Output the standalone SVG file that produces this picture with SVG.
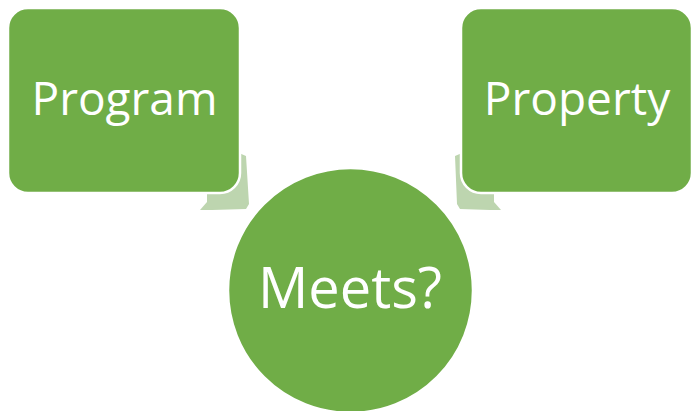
<svg xmlns="http://www.w3.org/2000/svg" width="693" height="411" viewBox="0 0 693 411">
  <style>
    .node { fill: #70AD47; stroke: #FFFFFF; stroke-width: 2.5; }
    .arrow { fill: #BDD5AF; stroke: none; }
    .label { fill: #FFFFFF; font-family: "Open Sans", "Liberation Sans", sans-serif; text-anchor: middle; }
  </style>
  <rect width="693" height="411" fill="#FFFFFF"/>
  <!-- converging arrow heads, tucked behind the source boxes -->
  <g id="connectors">
    <path class="arrow" d="M 232 150 L 246 156 L 249 204 L 246 209 L 212 210 L 200 210 L 207 202 L 207 185 Z"/>
    <path class="arrow" d="M 469 150 L 455 156 L 457 204 L 460 209 L 490 210 L 501 210 L 494 202 L 494 185 Z"/>
  </g>
  <g id="program">
    <rect class="node" x="8" y="8" width="232" height="185" rx="20" ry="20"/>
    <text class="label" x="124.5" y="115" font-size="46">Program</text>
  </g>
  <g id="property">
    <rect class="node" x="461" y="8" width="231" height="185" rx="20" ry="20"/>
    <text class="label" x="577" y="115" font-size="46">Property</text>
  </g>
  <g id="meets">
    <circle class="node" cx="350.5" cy="290.5" r="122.5"/>
    <text class="label" x="350" y="308" font-size="56">Meets?</text>
  </g>
</svg>
